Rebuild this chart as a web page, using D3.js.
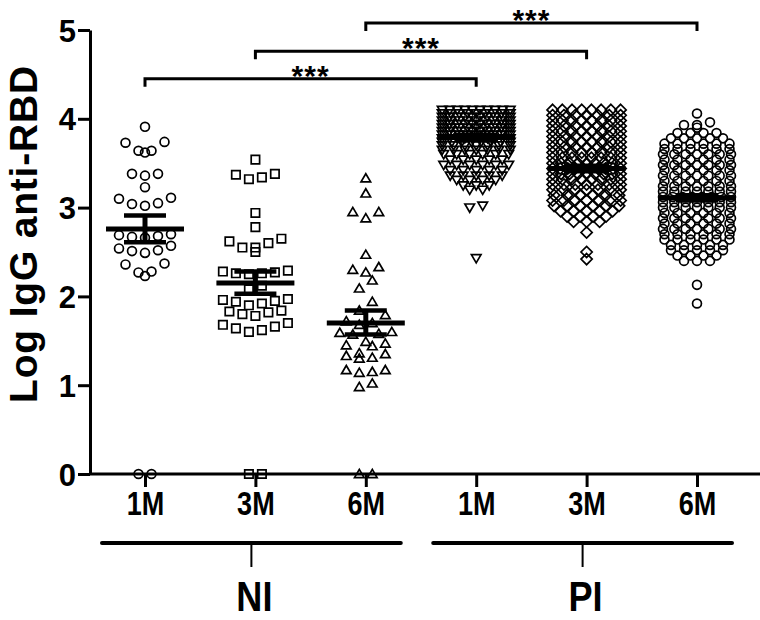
<!DOCTYPE html>
<html>
<head>
<meta charset="utf-8">
<script src="https://cdn.jsdelivr.net/npm/d3@7"></script>
<style>
  body { margin: 0; background: #fff; }
  svg text { fill: #000; }
</style>
</head>
<body>
<div id="chart"></div>
<script>
// groups along the x axis
const groups = ["NI-1M", "NI-3M", "NI-6M", "PI-1M", "PI-3M", "PI-6M"];
const tickLabels = ["1M", "3M", "6M", "1M", "3M", "6M"];
const cohorts = ["NI", "PI"];
const yTicks = [0, 1, 2, 3, 4, 5];

// log IgG anti-RBD per subject
const ni1m = [3.91,
  3.73, 3.64, 3.62, 3.64, 3.74,
  3.38, 3.36, 3.38, 3.23,
  3.10, 3.04, 3.02, 3.05, 3.11,
  2.68, 2.66, 2.70, 2.67, 2.69,
  2.52, 2.49, 2.57, 2.51, 2.54,
  2.36, 2.27, 2.23, 2.28, 2.37,
  0, 0];
const ni3m = [3.54,
  3.38, 3.32, 3.34, 3.37,
  2.94, 2.78,
  2.65, 2.62, 2.60, 2.55, 2.55, 2.50,
  2.28, 2.26, 2.25, 2.26, 2.27, 2.29,
  2.12, 2.08,
  1.96, 1.94, 1.92, 1.95, 1.90, 1.97,
  1.84, 1.82, 1.78, 1.80, 1.83,
  1.70, 1.66, 1.62, 1.60, 1.64, 1.68,
  0, 0];
const ni6m = [3.33, 3.16,
  2.95, 2.88, 2.95,
  2.47,
  2.33, 2.30, 2.27,
  2.18, 2.09, 1.94,
  1.84, 1.79, 1.72, 1.70, 1.68,
  1.58, 1.60, 1.57, 1.59,
  1.49, 1.45, 1.47, 1.44,
  1.36, 1.30, 1.33, 1.35, 1.31,
  1.17, 1.14, 1.15, 1.17,
  1.02, 0.98,
  0, 0];
const pi1m = [
  4.10, 4.10, 4.10, 4.10, 4.10, 4.10, 4.10, 4.10, 4.10, 4.10,
  4.06, 4.06, 4.06, 4.06, 4.06, 4.06, 4.06, 4.06, 4.06,
  4.02, 4.02, 4.02, 4.02, 4.02, 4.02, 4.02, 4.02, 4.02, 4.02,
  3.98, 3.98, 3.98, 3.98, 3.98, 3.98, 3.98, 3.98, 3.98,
  3.94, 3.94, 3.94, 3.94, 3.94, 3.94, 3.94, 3.94, 3.94, 3.94,
  3.90, 3.90, 3.90, 3.90, 3.90, 3.90, 3.90, 3.90, 3.90,
  3.86, 3.86, 3.86, 3.86, 3.86, 3.86, 3.86, 3.86, 3.86, 3.86,
  3.82, 3.82, 3.82, 3.82, 3.82, 3.82, 3.82, 3.82, 3.82,
  3.78, 3.78, 3.78, 3.78, 3.78, 3.78, 3.78, 3.78, 3.78, 3.78,
  3.74, 3.74, 3.74, 3.74, 3.74, 3.74, 3.74, 3.74,
  3.70, 3.70, 3.70, 3.70, 3.70, 3.70, 3.70,
  3.65, 3.65, 3.65, 3.65, 3.65, 3.65, 3.65,
  3.60, 3.60, 3.60, 3.60, 3.60, 3.60,
  3.54, 3.54, 3.54, 3.54, 3.54,
  3.48, 3.48, 3.48, 3.48, 3.48, 3.48,
  3.42, 3.42, 3.42, 3.42, 3.42,
  3.36, 3.36, 3.36, 3.36, 3.36,
  3.31, 3.31, 3.31, 3.31,
  3.25, 3.25, 3.25,
  3.20, 3.20,
  3.02, 3.00,
  2.43];
const pi3m = [
  4.10, 4.10, 4.10, 4.10, 4.10, 4.10, 4.10, 4.10,
  4.04, 4.04, 4.04, 4.04, 4.04, 4.04, 4.04,
  3.98, 3.98, 3.98, 3.98, 3.98, 3.98, 3.98, 3.98,
  3.92, 3.92, 3.92, 3.92, 3.92, 3.92, 3.92,
  3.86, 3.86, 3.86, 3.86, 3.86, 3.86, 3.86, 3.86,
  3.80, 3.80, 3.80, 3.80, 3.80, 3.80, 3.80,
  3.74, 3.74, 3.74, 3.74, 3.74, 3.74, 3.74, 3.74,
  3.68, 3.68, 3.68, 3.68, 3.68, 3.68, 3.68,
  3.62, 3.62, 3.62, 3.62, 3.62, 3.62, 3.62, 3.62,
  3.56, 3.56, 3.56, 3.56, 3.56, 3.56, 3.56, 3.56,
  3.50, 3.50, 3.50, 3.50, 3.50, 3.50, 3.50, 3.50, 3.50,
  3.44, 3.44, 3.44, 3.44, 3.44, 3.44, 3.44, 3.44, 3.44, 3.44,
  3.38, 3.38, 3.38, 3.38, 3.38, 3.38, 3.38, 3.38, 3.38,
  3.32, 3.32, 3.32, 3.32, 3.32, 3.32, 3.32, 3.32,
  3.26, 3.26, 3.26, 3.26, 3.26, 3.26, 3.26,
  3.20, 3.20, 3.20, 3.20, 3.20, 3.20, 3.20,
  3.14, 3.14, 3.14, 3.14, 3.14, 3.14,
  3.08, 3.08, 3.08, 3.08, 3.08, 3.08, 3.08,
  3.02, 3.02, 3.02, 3.02, 3.02, 3.02,
  2.96, 2.96, 2.96, 2.96, 2.96,
  2.90, 2.90, 2.90, 2.90,
  2.84, 2.84, 2.84,
  2.72, 2.50, 2.42];
const pi6m = [4.06,
  3.96, 3.93, 3.93, 3.90,
  3.84, 3.84, 3.84, 3.84,
  3.78, 3.78, 3.78, 3.78, 3.78,
  3.72, 3.72, 3.72, 3.72, 3.72, 3.72,
  3.66, 3.66, 3.66, 3.66, 3.66, 3.66,
  3.60, 3.60, 3.60, 3.60, 3.60, 3.60, 3.60,
  3.54, 3.54, 3.54, 3.54, 3.54, 3.54,
  3.48, 3.48, 3.48, 3.48, 3.48, 3.48, 3.48,
  3.42, 3.42, 3.42, 3.42, 3.42, 3.42,
  3.36, 3.36, 3.36, 3.36, 3.36, 3.36, 3.36,
  3.30, 3.30, 3.30, 3.30, 3.30, 3.30,
  3.24, 3.24, 3.24, 3.24, 3.24, 3.24, 3.24,
  3.18, 3.18, 3.18, 3.18, 3.18, 3.18, 3.18,
  3.12, 3.12, 3.12, 3.12, 3.12, 3.12, 3.12, 3.12,
  3.06, 3.06, 3.06, 3.06, 3.06, 3.06, 3.06,
  3.00, 3.00, 3.00, 3.00, 3.00, 3.00, 3.00,
  2.94, 2.94, 2.94, 2.94, 2.94, 2.94,
  2.88, 2.88, 2.88, 2.88, 2.88, 2.88, 2.88,
  2.82, 2.82, 2.82, 2.82, 2.82, 2.82,
  2.76, 2.76, 2.76, 2.76, 2.76, 2.76, 2.76,
  2.70, 2.70, 2.70, 2.70, 2.70, 2.70,
  2.64, 2.64, 2.64, 2.64, 2.64, 2.64,
  2.58, 2.58, 2.58, 2.58, 2.58,
  2.52, 2.52, 2.52, 2.52, 2.52,
  2.46, 2.46, 2.46, 2.46,
  2.40, 2.40, 2.40,
  2.13, 1.92];
const values = [ni1m, ni3m, ni6m, pi1m, pi3m, pi6m];

// mean and SEM per group
const means = [2.76, 2.15, 1.70, 3.79, 3.44, 3.11];
const semLow = [2.61, 2.03, 1.57, 3.76, 3.41, 3.08];
const semHigh = [2.91, 2.28, 1.84, 3.82, 3.47, 3.14];

// significance brackets: [from group, to group], label
const sigPairs = [[0, 3], [1, 4], [2, 5]];
const sigLevels = [4.45, 4.76, 5.08];
const sigLabels = ["***", "***", "***"];

// marker per group
const shapes = ["circle", "square", "triangleUp", "triangleDown", "diamond", "circle"];

var width = 760;
var height = 620;

var svg = d3.select("#chart").append("svg")
  .attr("width", width)
  .attr("height", height);

var x = d3.scalePoint().domain(groups).range([145, 697]);
var y = d3.scaleLinear().domain([0, 5]).range([474, 30]);

var sans = "'Liberation Sans', Arial, sans-serif";

// marker path centred on 0,0
function shapePath(kind) {
  if (kind == "circle") return d3.symbol(d3.symbolCircle, 62)();
  if (kind == "square") return "M-4.2,-4.2H4.2V4.2H-4.2Z";
  if (kind == "triangleUp") return "M0,-4.6L4.8,3.6H-4.8Z";
  if (kind == "triangleDown") return "M0,4.6L4.8,-3.6H-4.8Z";
  if (kind == "diamond") return "M0,-5.6L5.6,0L0,5.6L-5.6,0Z";
}

// column scatter: points in about the same row are spread out sideways
function swarm(vals, cx, rowPx) {
  var sorted = vals.slice().sort(function(a, b) { return b - a; });
  var rows = [];
  var cur = null;
  sorted.forEach(function(v) {
    var py = y(v);
    if (!cur || py - cur.y0 > rowPx) {
      cur = {y0: py, pts: []};
      rows.push(cur);
    }
    cur.pts.push(v);
  });
  var out = [];
  rows.forEach(function(r) {
    var n = r.pts.length;
    var step = n > 1 ? Math.min(13, 68 / (n - 1)) : 0;
    var slots = d3.range(n).map(function(i) { return (i - (n - 1) / 2) * step; });
    slots.sort(function(a, b) { return Math.abs(a) - Math.abs(b) || a - b; });
    var asc = r.pts.slice().sort(function(a, b) { return a - b; });
    asc.forEach(function(v, i) {
      out.push({x: cx + slots[i], y: y(v)});
    });
  });
  return out;
}

// points
groups.forEach(function(g, i) {
  var pts = swarm(values[i], x(g), i < 3 ? 10 : 3);
  svg.append("g").selectAll("path").data(pts).enter().append("path")
    .attr("d", shapePath(shapes[i]))
    .attr("transform", function(d) { return "translate(" + d.x + "," + d.y + ")"; })
    .attr("fill", "none")
    .attr("stroke", "#000")
    .attr("stroke-width", 1.7);
});

// mean and SEM bars
var bars = svg.append("g").attr("stroke", "#000");
groups.forEach(function(g, i) {
  var cx = x(g);
  bars.append("line").attr("x1", cx).attr("x2", cx)
    .attr("y1", y(semLow[i])).attr("y2", y(semHigh[i])).attr("stroke-width", 5);
  bars.append("line").attr("x1", cx - 21).attr("x2", cx + 21)
    .attr("y1", y(semLow[i])).attr("y2", y(semLow[i])).attr("stroke-width", 4.5);
  bars.append("line").attr("x1", cx - 21).attr("x2", cx + 21)
    .attr("y1", y(semHigh[i])).attr("y2", y(semHigh[i])).attr("stroke-width", 4.5);
  bars.append("line").attr("x1", cx - 39).attr("x2", cx + 39)
    .attr("y1", y(means[i])).attr("y2", y(means[i])).attr("stroke-width", 5);
});

// y axis
var yAxis = svg.append("g")
  .attr("transform", "translate(90,0)")
  .call(d3.axisLeft(y).tickValues(yTicks).tickFormat(d3.format("d")).tickSize(12).tickSizeOuter(0).tickPadding(2));
yAxis.select(".domain").attr("stroke-width", 3);
yAxis.selectAll(".tick line").attr("stroke-width", 3);
yAxis.selectAll(".tick text")
  .attr("font-family", sans)
  .attr("font-weight", "bold")
  .attr("font-size", 31)
  .attr("dy", "0.36em");

// x axis
svg.append("line")
  .attr("x1", 89).attr("x2", 760)
  .attr("y1", y(0)).attr("y2", y(0))
  .attr("stroke", "#000").attr("stroke-width", 3);
var xAxis = svg.append("g")
  .attr("transform", "translate(0," + y(0) + ")")
  .call(d3.axisBottom(x).tickSize(13).tickPadding(5)
    .tickFormat(function(d, i) { return tickLabels[i]; }));
xAxis.select(".domain").remove();
xAxis.selectAll(".tick line").attr("stroke-width", 3);
xAxis.selectAll(".tick text")
  .attr("font-family", sans)
  .attr("font-weight", "bold")
  .attr("font-size", 33)
  .attr("transform", "scale(0.82,1)");

// y title
svg.append("text")
  .attr("transform", "translate(37," + 234 + ") rotate(-90)")
  .attr("text-anchor", "middle")
  .attr("font-family", sans)
  .attr("font-weight", "bold")
  .attr("font-size", 39)
  .attr("letter-spacing", 0.8)
  .text("Log IgG anti-RBD");

// cohort brackets under the axis
var cohortGroups = [groups.slice(0, 3), groups.slice(3)];
cohortGroups.forEach(function(gs, i) {
  var x0 = x(gs[0]) - 43;
  var x1 = x(gs[gs.length - 1]) + 35;
  var mid = (x0 + x1) / 2;
  svg.append("line").attr("x1", x0).attr("x2", x1).attr("y1", 543).attr("y2", 543)
    .attr("stroke", "#000").attr("stroke-width", 4).attr("stroke-linecap", "round");
  svg.append("line").attr("x1", mid).attr("x2", mid).attr("y1", 543).attr("y2", 567)
    .attr("stroke", "#000").attr("stroke-width", 2);
  svg.append("text")
    .attr("transform", "translate(" + (mid + 3) + ",611) scale(0.86,1)")
    .attr("text-anchor", "middle")
    .attr("font-family", sans)
    .attr("font-weight", "bold")
    .attr("font-size", 42)
    .text(cohorts[i]);
});

// significance brackets
sigPairs.forEach(function(p, i) {
  var x0 = x(groups[p[0]]);
  var x1 = x(groups[p[1]]);
  var by = y(sigLevels[i]);
  svg.append("path")
    .attr("d", "M" + x0 + "," + (by + 8) + "V" + by + "H" + x1 + "V" + (by + 8))
    .attr("fill", "none").attr("stroke", "#000").attr("stroke-width", 3);
  svg.append("text")
    .attr("x", (x0 + x1) / 2).attr("y", by + 7)
    .attr("text-anchor", "middle")
    .attr("font-family", sans)
    .attr("font-weight", "bold")
    .attr("font-size", 30)
    .attr("letter-spacing", 1)
    .text(sigLabels[i]);
});
</script>
</body>
</html>
